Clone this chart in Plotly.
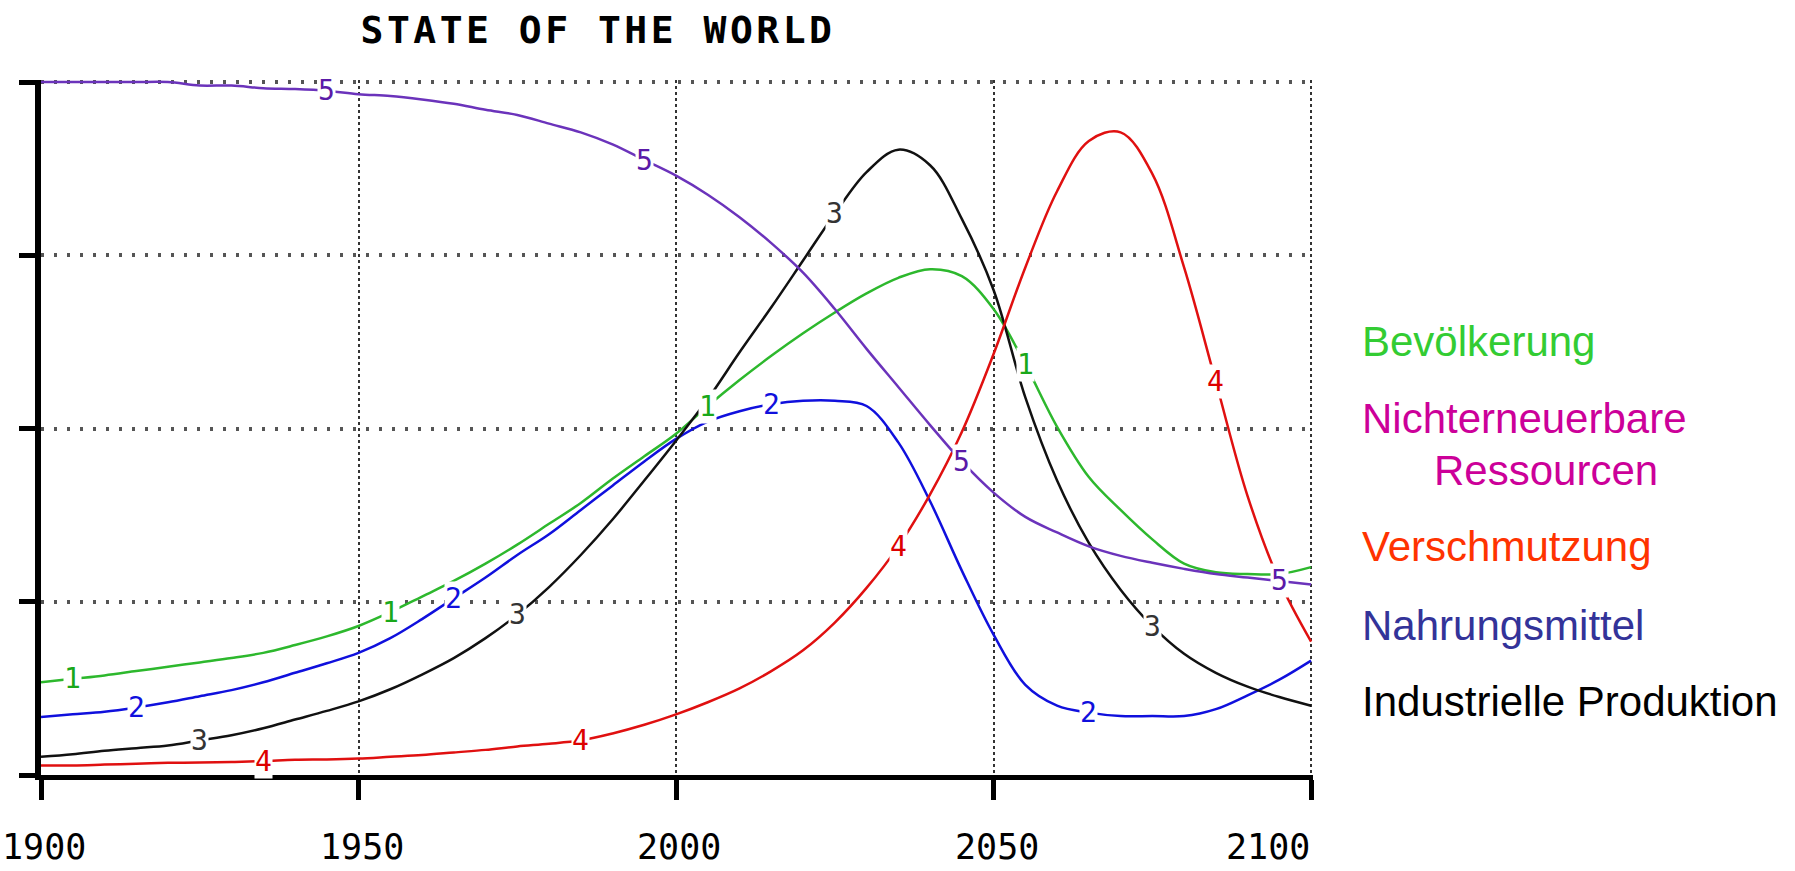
import plotly.graph_objects as go

# ---------------- data ----------------
years = list(range(1900, 2101, 5))

bevoelkerung = [0.535, 0.555, 0.575, 0.60, 0.625, 0.65, 0.675, 0.705, 0.75, 0.80,
                0.86, 0.94, 1.03, 1.12, 1.22, 1.33, 1.45, 1.57, 1.71, 1.84,
                1.97, 2.13, 2.28, 2.42, 2.55, 2.67, 2.78, 2.87, 2.92, 2.88,
                2.69, 2.37, 2.01, 1.72, 1.53, 1.36, 1.22, 1.17, 1.16, 1.16, 1.20]

nahrungsmittel = [0.335, 0.35, 0.365, 0.39, 0.42, 0.455, 0.49, 0.535, 0.59, 0.645,
                  0.705, 0.79, 0.90, 1.02, 1.14, 1.27, 1.39, 1.53, 1.67, 1.81,
                  1.94, 2.04, 2.10, 2.14, 2.16, 2.16, 2.13, 1.92, 1.58, 1.18,
                  0.81, 0.52, 0.40, 0.36, 0.34, 0.34, 0.34, 0.38, 0.46, 0.55, 0.66]

industrie = [0.105, 0.12, 0.14, 0.155, 0.17, 0.20, 0.23, 0.27, 0.32, 0.37,
             0.425, 0.495, 0.58, 0.675, 0.79, 0.925, 1.085, 1.27, 1.475, 1.70,
             1.93, 2.17, 2.44, 2.70, 2.97, 3.24, 3.48, 3.61, 3.52, 3.21,
             2.80, 2.18, 1.70, 1.34, 1.07, 0.86, 0.70, 0.59, 0.51, 0.45, 0.40]

verschmutzung = [0.055, 0.055, 0.06, 0.065, 0.07, 0.072, 0.075, 0.08, 0.088, 0.09,
                 0.095, 0.105, 0.115, 0.13, 0.145, 0.165, 0.18, 0.20, 0.24, 0.29,
                 0.35, 0.42, 0.50, 0.60, 0.72, 0.88, 1.08, 1.32, 1.62, 1.98,
                 2.43, 2.93, 3.37, 3.66, 3.71, 3.47, 2.93, 2.27, 1.61, 1.12, 0.77]

ressourcen = [4.0, 4.0, 4.0, 4.0, 4.0, 3.98, 3.98, 3.965, 3.96, 3.95,
              3.93, 3.92, 3.90, 3.875, 3.84, 3.81, 3.76, 3.71, 3.64, 3.55,
              3.46, 3.35, 3.22, 3.07, 2.90, 2.69, 2.46, 2.24, 2.02, 1.81,
              1.63, 1.49, 1.40, 1.32, 1.265, 1.225, 1.19, 1.16, 1.14, 1.12, 1.10]

label_years = {
    "1": [1905, 1955, 2005, 2055],
    "2": [1915, 1965, 2015, 2065],
    "3": [1925, 1975, 2025, 2075],
    "4": [1935, 1985, 2035, 2085],
    "5": [1945, 1995, 2045, 2095],
}

x_tickvals = [1900, 1950, 2000, 2050, 2100]
x_ticktext = ["1900", "1950", "2000", "2050", "2100"]
y_tickvals = [0, 1, 2, 3, 4]

title_text = "STATE OF THE WORLD"
legend_lines = ["Bevölkerung", "Nichterneuerbare", "Ressourcen",
                "Verschmutzung", "Nahrungsmittel", "Industrielle Produktion"]

# ---------------- styles ----------------
series = [
    ("1", bevoelkerung, "#2db82d", "#1aa81a"),
    ("2", nahrungsmittel, "#1010dd", "#1010dd"),
    ("3", industrie, "#111111", "#333333"),
    ("4", verschmutzung, "#e01010", "#dd0000"),
    ("5", ressourcen, "#6b33bb", "#5a1aa8"),
]

fig = go.Figure()
for num, vals, col, _ in series:
    fig.add_trace(go.Scatter(x=years, y=vals, mode="lines",
                             line=dict(color=col, width=2.5, shape="spline", smoothing=1.0),
                             showlegend=False, hoverinfo="skip"))

annotations = []
for num, vals, col, lcol in series:
    for yr in label_years[num]:
        v = vals[years.index(yr)]
        annotations.append(dict(x=yr, y=v, xref="x", yref="y", text=num, showarrow=False,
                                bgcolor="white", borderpad=0,
                                font=dict(family="DejaVu Sans Mono", size=28, color=lcol)))

# geometry of the plot area (pixels)
W = 1271.9
H = 695.6
left = 41
bottom = 775.5

# x tick labels (the last one right-aligned to the axis end, as in the reference)
for i, (tv, tt) in enumerate(zip(x_tickvals, x_ticktext)):
    last = i == len(x_tickvals) - 1
    annotations.append(dict(x=tv, y=(bottom - 848) / H, xref="x", yref="paper", text=tt,
                            showarrow=False, borderpad=0,
                            xanchor="right" if last else "center",
                            xshift=0 if last else 3, yanchor="middle",
                            font=dict(family="DejaVu Sans Mono", size=35, color="black")))

# legend texts (right side)
legend_specs = [
    (legend_lines[0], 1361, 342, "#33cc33"),
    (legend_lines[1], 1361, 419, "#cc0099"),
    (legend_lines[2], 1433, 470.5, "#cc0099"),
    (legend_lines[3], 1361, 547, "#ff3300"),
    (legend_lines[4], 1361, 625.5, "#333399"),
    (legend_lines[5], 1361, 702, "#000000"),
]
for txt, px, py, col in legend_specs:
    annotations.append(dict(x=(px - left) / W, y=(bottom - py) / H, xref="paper", yref="paper",
                            xanchor="left", yanchor="middle", text=txt, showarrow=False,
                            borderpad=0,
                            font=dict(family="Liberation Sans", size=42, color=col)))

fig.update_layout(
    width=1795, height=871,
    margin=dict(l=left, r=1795 - left - W, t=bottom - H, b=871 - bottom, pad=0,
                autoexpand=False),
    paper_bgcolor="white", plot_bgcolor="white",
    title=dict(text='<span style="letter-spacing:3.5px">' + title_text + '</span>',
               x=598 / 1795, y=1 - 30 / 871, xref="container", yref="container",
               xanchor="center", yanchor="middle",
               font=dict(family="DejaVu Sans Mono", size=38, color="black", weight="bold")),
    annotations=annotations,
    showlegend=False,
)

fig.update_xaxes(range=[1900, 2100.3], tickmode="array", tickvals=x_tickvals,
                 showticklabels=False, automargin=False,
                 showline=True, linecolor="black", linewidth=5,
                 ticks="outside", ticklen=20, tickwidth=5, tickcolor="black",
                 showgrid=True, gridcolor="#333333", gridwidth=2, griddash="3px,3px",
                 zeroline=False)
fig.update_yaxes(range=[0, 4.012], tickmode="array", tickvals=y_tickvals, showticklabels=False,
                 automargin=False,
                 showline=True, linecolor="black", linewidth=6,
                 ticks="outside", ticklen=16, tickwidth=5, tickcolor="black",
                 showgrid=True, gridcolor="#555555", gridwidth=4, griddash="3px,10px",
                 zeroline=False)

fig.write_html("out.html")
